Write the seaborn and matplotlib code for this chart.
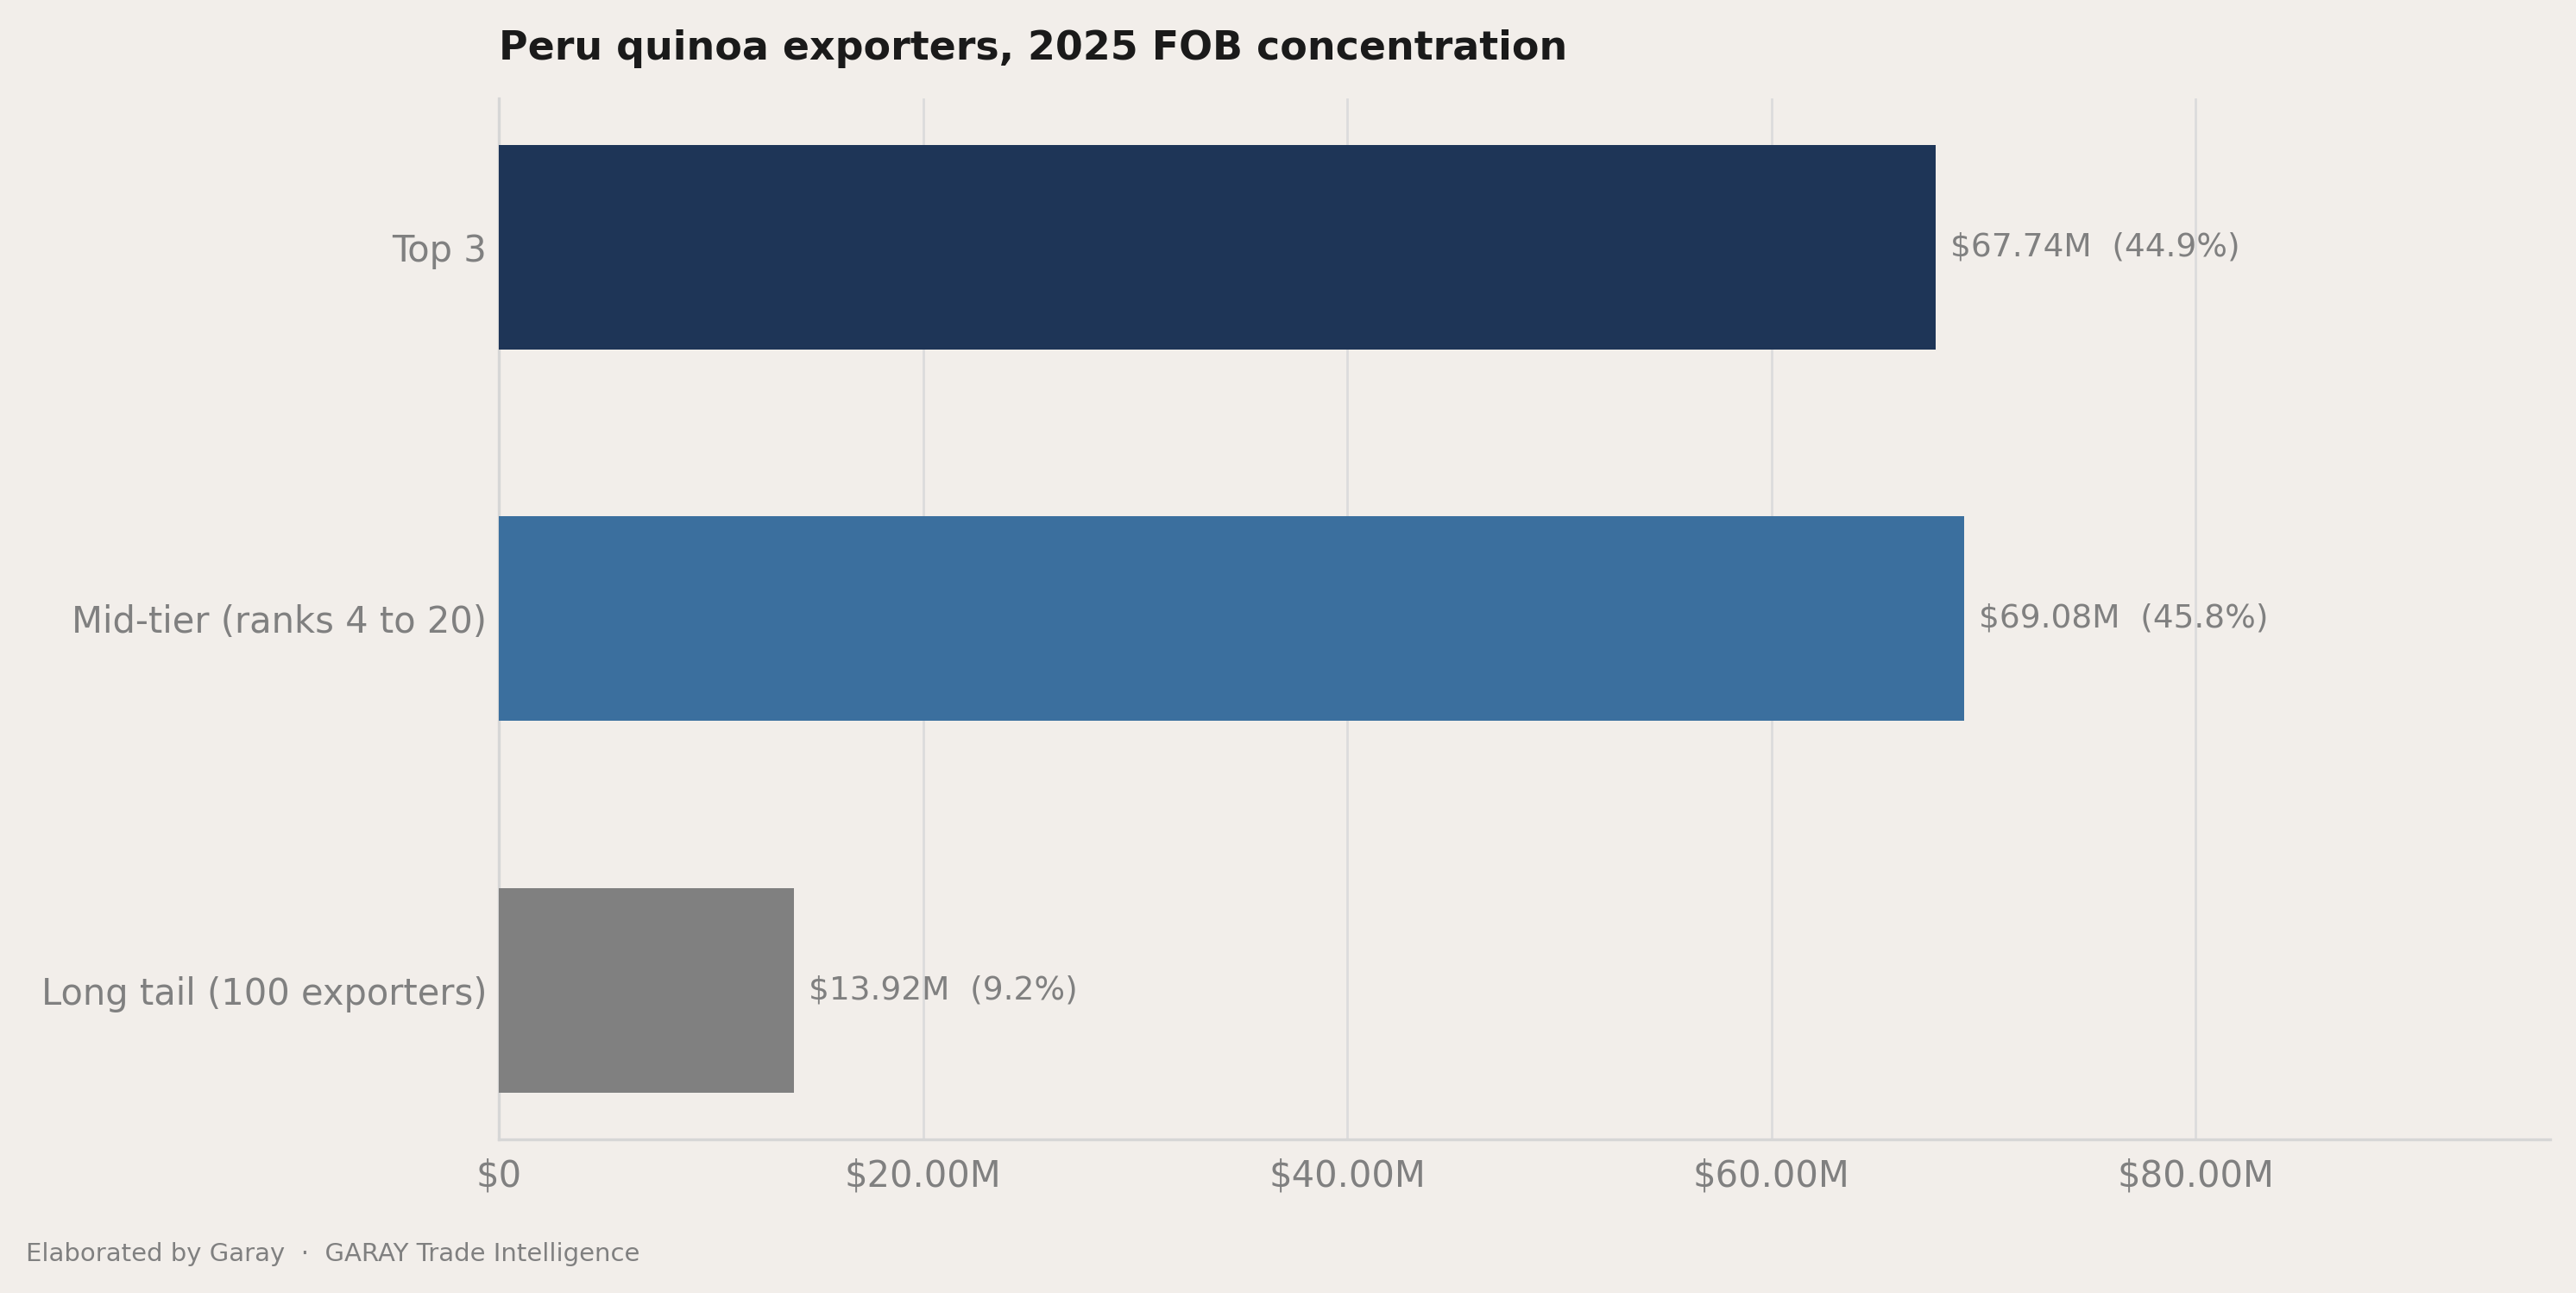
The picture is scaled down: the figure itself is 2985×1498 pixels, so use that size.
import matplotlib
matplotlib.use("Agg")
import matplotlib.pyplot as plt
import seaborn as sns
import pandas as pd
from matplotlib.ticker import FuncFormatter

# data (USD millions)
tiers = ["Top 3", "Mid-tier (ranks 4 to 20)", "Long tail (100 exporters)"]
fob_musd = [67.74, 69.08, 13.92]
tier_colors = ["#1e3557", "#3b6f9e", "#808080"]

bg = "#f2eeea"
grey = "#808080"

df = pd.DataFrame({"tier": tiers, "fob": fob_musd})
total = df.fob.sum()
df["share"] = df.fob / total * 100

sns.set_theme(style="white")
plt.rcParams["font.family"] = ["DejaVu Sans"]

fig, ax = plt.subplots(figsize=(14.925, 7.49), dpi=200)
fig.patch.set_facecolor(bg)
ax.set_facecolor(bg)
fig.subplots_adjust(left=0.1937, right=0.99, top=0.924, bottom=0.119)

sns.barplot(data=df, x="fob", y="tier", hue="tier", palette=tier_colors,
            width=0.55, saturation=1, linewidth=0, legend=False, ax=ax, zorder=3)

for i, row in df.iterrows():
    ax.annotate(f"${row.fob:.2f}M  ({row.share:.1f}%)", xy=(row.fob, i),
                xytext=(6, 0), textcoords="offset points", va="center",
                ha="left", fontsize=13.5, color=grey)

ax.set_xlim(0, df.fob.max() * 1.4)
ax.set_ylim(2.4, -0.4)
ax.set_xticks([0, 20, 40, 60, 80])
ax.xaxis.set_major_formatter(FuncFormatter(lambda v, p: "$0" if v == 0 else f"${v:.2f}M"))
ax.grid(axis="x", color="#dcdcdc", linewidth=1.0, zorder=0)
ax.grid(axis="y", visible=False)
ax.set_xlabel("")
ax.set_ylabel("")
ax.tick_params(axis="both", length=0, labelcolor=grey)
ax.tick_params(axis="x", labelsize=15, pad=8)
ax.tick_params(axis="y", labelsize=15, pad=5)
for s in ["top", "right"]:
    ax.spines[s].set_visible(False)
for s in ["left", "bottom"]:
    ax.spines[s].set_color("#d6d6d6")
    ax.spines[s].set_linewidth(1.2)

ax.set_title("Peru quinoa exporters, 2025 FOB concentration", loc="left",
             fontsize=16.5, fontweight="bold", color="#1a1a1a", pad=16)
fig.text(0.01, 0.025, "Elaborated by Garay  \u00b7  GARAY Trade Intelligence",
         fontsize=10.5, color=grey, ha="left", va="baseline")

fig.savefig("out.png", dpi=200, facecolor=bg)
